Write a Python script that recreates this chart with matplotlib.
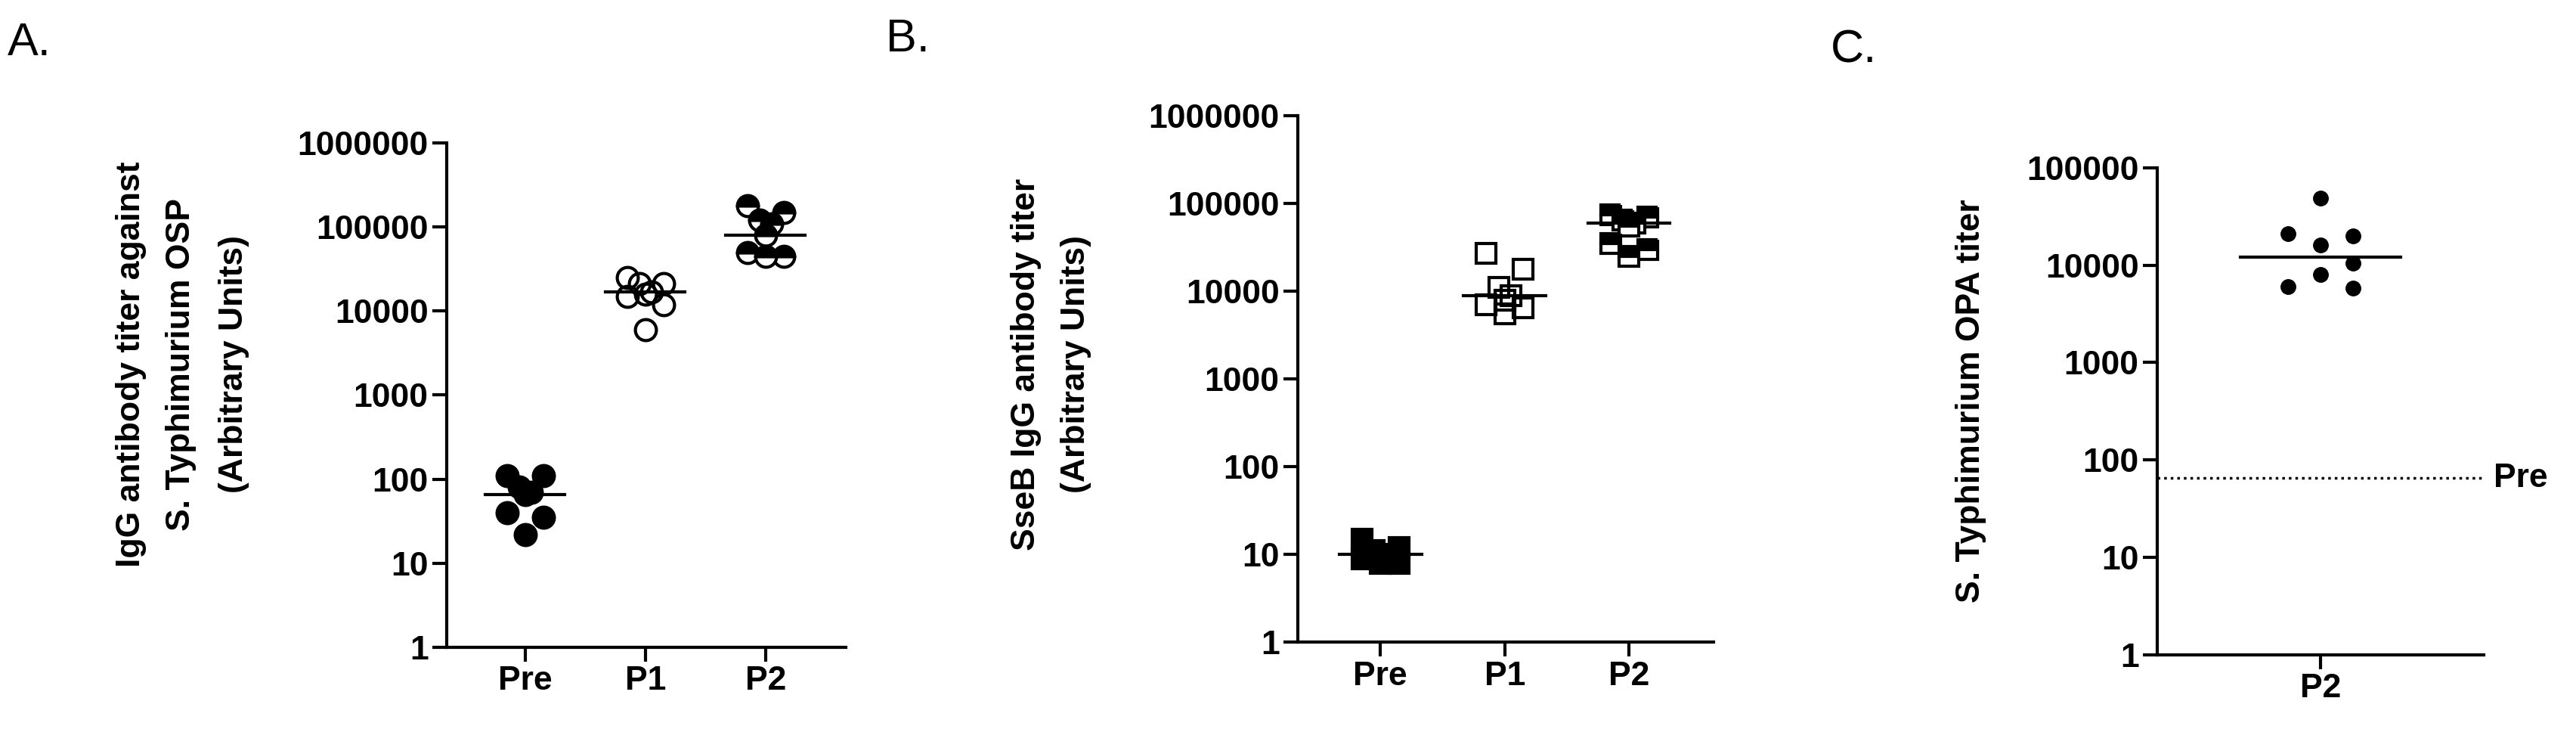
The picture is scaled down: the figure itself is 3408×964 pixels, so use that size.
import matplotlib
matplotlib.use("Agg")
import matplotlib.pyplot as plt
import numpy as np

plt.rcParams['font.family'] = ['Liberation Sans', 'DejaVu Sans']

groups_ab = ["Pre", "P1", "P2"]
a_pre = [110, 110, 80, 70, 65, 40, 35, 22]
a_p1 = [25000, 21000, 21000, 17000, 16000, 15000, 12000, 6000]
a_p2 = [180000, 150000, 120000, 110000, 80000, 50000, 45000, 45000]
a_median = [65, 17000, 80000]

b_pre = [15, 12, 11, 10, 9, 9, 8, 8]
b_p1 = [27000, 18000, 11000, 9000, 8000, 7000, 6500, 5500]
b_p2 = [75000, 70000, 65000, 60000, 55000, 35000, 30000, 25000]
b_median = [10, 9000, 60000]

groups_c = ["P2"]
c_p2 = [49000, 21000, 20000, 16000, 10500, 8000, 6000, 5800]
c_median = [12000]
c_pre_level = 65

jit = np.array([-0.15, 0.15, -0.05, 0.05, 0.0, -0.15, 0.15, 0.0])

fig = plt.figure(figsize=(34.08, 9.64), dpi=100)
TF = 32

def style(ax, ylo, yhi):
    ax.set_yscale('log')
    ax.set_ylim(ylo, yhi)
    ax.spines['top'].set_visible(False)
    ax.spines['right'].set_visible(False)
    for s in ['left', 'bottom']:
        ax.spines[s].set_linewidth(3)
    ax.tick_params(axis='both', width=3, length=14, labelsize=TF)
    ax.tick_params(axis='y', which='minor', left=False)
    ax.yaxis.set_major_formatter(matplotlib.ticker.FuncFormatter(lambda v, p: f"{int(round(v))}"))
    for lab in ax.get_xticklabels() + ax.get_yticklabels():
        lab.set_fontweight('bold')

# Panel A
axA = fig.add_axes([0.1734, 0.112, 0.155, 0.692])
fills = ['full', 'none', 'top']
for i, (vals, fs) in enumerate(zip([a_pre, a_p1, a_p2], fills)):
    for j, v in enumerate(vals):
        axA.plot(i + jit[j], v, 'o', ms=20, color='black', mec='black', mew=3,
                 fillstyle=fs, markerfacecoloralt='white')
    axA.plot([i - 0.33, i + 0.33], [a_median[i]] * 2, color='black', lw=3)
axA.set_xlim(-0.654, 2.67)
axA.set_xticks(range(3))
axA.set_xticklabels(groups_ab)
style(axA, 1, 1e6)
axA.set_yticks([1, 10, 100, 1000, 10000, 100000, 1000000])
for lab in axA.get_xticklabels() + axA.get_yticklabels():
    lab.set_fontweight('bold')
fig.text(174/3408, 0.5, "IgG antibody titer against", rotation=90, ha='center', va='center', fontsize=TF, fontweight='bold')
fig.text(239/3408, 0.5, "S. Typhimurium OSP", rotation=90, ha='center', va='center', fontsize=TF, fontweight='bold')
fig.text(309/3408, 0.5, "(Arbitrary Units)", rotation=90, ha='center', va='center', fontsize=TF, fontweight='bold')

# Panel B
axB = fig.add_axes([0.5038, 0.119, 0.1614, 0.722])
for i, (vals, fs) in enumerate(zip([b_pre, b_p1, b_p2], fills)):
    for j, v in enumerate(vals):
        axB.plot(i + jit[j], v, 's', ms=19, color='black', mec='black', mew=3,
                 fillstyle=fs, markerfacecoloralt='white')
    axB.plot([i - 0.33, i + 0.33], [b_median[i]] * 2, color='black', lw=3)
axB.set_xlim(-0.665, 2.68)
axB.set_xticks(range(3))
axB.set_xticklabels(groups_ab)
style(axB, 1, 1e6)
axB.set_yticks([1, 10, 100, 1000, 10000, 100000, 1000000])
for lab in axB.get_xticklabels() + axB.get_yticklabels():
    lab.set_fontweight('bold')
fig.text(1358/3408, 0.5, "SseB IgG antibody titer", rotation=90, ha='center', va='center', fontsize=TF, fontweight='bold')
fig.text(1424/3408, 0.5, "(Arbitrary Units)", rotation=90, ha='center', va='center', fontsize=TF, fontweight='bold')

# Panel C
axC = fig.add_axes([0.8374, 0.102, 0.1268, 0.668])
cx = [0, -0.2, 0.2, 0, 0.2, 0, -0.2, 0.2]
axC.plot(cx, c_p2, 'o', ms=14, color='black')
axC.plot([-0.49, 0.49], [c_median[0]] * 2, color='black', lw=3)
axC.plot([-1, 0.99], [c_pre_level] * 2, color='black', lw=2.5, ls=(0, (1, 1.5)))
axC.text(1.06, c_pre_level, "Pre", ha='left', va='center', fontsize=TF, fontweight='bold', clip_on=False)
axC.set_xlim(-1, 1)
axC.set_xticks([0])
axC.set_xticklabels(groups_c)
style(axC, 1, 1e5)
axC.set_yticks([1, 10, 100, 1000, 10000, 100000])
for lab in axC.get_xticklabels() + axC.get_yticklabels():
    lab.set_fontweight('bold')
fig.text(2608/3408, 0.45, "S. Typhimurium OPA titer", rotation=90, ha='center', va='center', fontsize=TF, fontweight='bold')

fig.text(0.003, 0.97, "A.", fontsize=44, ha='left', va='top')
fig.text(1172/3408, 0.975, "B.", fontsize=44, ha='left', va='top')
fig.text(2422/3408, 0.96, "C.", fontsize=44, ha='left', va='top')

fig.savefig("out.png", dpi=100)
